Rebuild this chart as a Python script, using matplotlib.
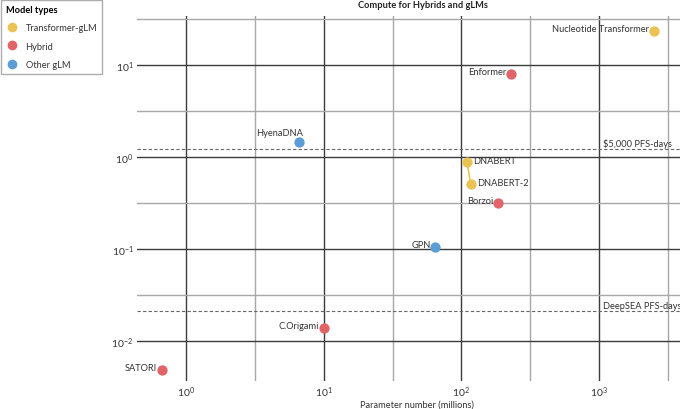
import matplotlib
matplotlib.use("Agg")
import matplotlib.pyplot as plt
from matplotlib.ticker import FixedLocator, NullFormatter, LogFormatterMathtext
from matplotlib.lines import Line2D

plt.rcParams['font.family'] = ['Lato', 'DejaVu Sans']
plt.rcParams['mathtext.fontset'] = 'custom'
plt.rcParams['mathtext.rm'] = 'Lato'
plt.rcParams['mathtext.it'] = 'Lato:italic'
plt.rcParams['mathtext.bf'] = 'Lato:bold'

models = ["Nucleotide Transformer", "Enformer", "HyenaDNA", "DNABERT", "DNABERT-2",
          "Borzoi", "GPN", "C.Origami", "SATORI"]
types = ["Transformer-gLM", "Hybrid", "Other gLM", "Transformer-gLM", "Transformer-gLM",
         "Hybrid", "Other gLM", "Hybrid", "Hybrid"]
params = [2500, 228, 6.6, 110, 117, 185, 64.6, 10, 0.67]
compute = [23.2, 7.9, 1.43, 0.875, 0.505, 0.314, 0.105, 0.0137, 0.00484]
label_side = ["left", "left", "above", "right", "right", "left", "left", "left", "left"]

ref_lines = [1.23, 0.0209]
ref_labels = ["$5,000 PFS-days", "DeepSEA PFS-days"]

type_order = ["Transformer-gLM", "Hybrid", "Other gLM"]
colors = {"Transformer-gLM": "#EBC355", "Hybrid": "#E06468", "Other gLM": "#5B9ED6"}

FS = 6.7

fig = plt.figure(figsize=(6.8, 4.1), dpi=100)
ax = fig.add_axes([137/680, 1 - 381.7/410, 1 - 137/680, (381.7 - 17)/410])
ax.set_xscale("log")
ax.set_yscale("log")
ax.set_xlim(0.441, 3868)
ax.set_ylim(0.0037, 33.8)
for s in ax.spines.values():
    s.set_visible(False)

xmaj = [1, 10, 100, 1000]
xmin = [10**(k + 0.5) for k in range(-1, 4)]
ymaj = [0.01, 0.1, 1, 10]
ymin = [10**(k + 0.5) for k in range(-3, 2)]
ax.xaxis.set_major_locator(FixedLocator(xmaj))
ax.xaxis.set_minor_locator(FixedLocator(xmin))
ax.yaxis.set_major_locator(FixedLocator(ymaj))
ax.yaxis.set_minor_locator(FixedLocator(ymin))
ax.xaxis.set_minor_formatter(NullFormatter())
ax.yaxis.set_minor_formatter(NullFormatter())
ax.xaxis.set_major_formatter(LogFormatterMathtext())
ax.yaxis.set_major_formatter(LogFormatterMathtext())
ax.tick_params(which="both", length=0, labelsize=7.5, labelcolor="#333333")
ax.tick_params(axis="x", pad=3)
ax.tick_params(axis="y", pad=2.5)
ax.grid(which="major", color="#3c3c3c", lw=1.0)
ax.grid(which="minor", color="#a8a8a8", lw=1.0)
ax.set_axisbelow(True)

for yv, lab in zip(ref_lines, ref_labels):
    ax.axhline(yv, color="#666666", lw=0.8, ls=(0, (3, 2)), zorder=1.5)
    ax.annotate(lab, (1070, yv), xytext=(0, 4.3), textcoords="offset points", ha="left",
                va="center", fontsize=FS, color="#333333")

# connection DNABERT -> DNABERT-2
i1, i2 = models.index("DNABERT"), models.index("DNABERT-2")
ax.plot([params[i1], params[i2]], [compute[i1], compute[i2]], color=colors["Transformer-gLM"],
        lw=1.2, zorder=2)

for m, t, x, y, side in zip(models, types, params, compute, label_side):
    ax.scatter(x, y, s=55, color=colors[t], zorder=3, linewidths=0)
    if side == "left":
        ax.annotate(m, (x, y), xytext=(-3.4, 2), textcoords="offset points", ha="right",
                    va="center", fontsize=FS, color="#333333", zorder=4)
    elif side == "right":
        ax.annotate(m, (x, y), xytext=(4.3, 1), textcoords="offset points", ha="left",
                    va="center", fontsize=FS, color="#333333", zorder=4)
    else:
        ax.annotate(m, (x, y), xytext=(-14, 7), textcoords="offset points", ha="center",
                    va="center", fontsize=FS, color="#333333", zorder=4)

fig.text(423/680, 1 - 5/410, "Compute for Hybrids and gLMs", ha="center", va="center",
         fontsize=FS, fontweight="bold", color="#222222")
fig.text(417/680, 1 - 405/410, "Parameter number (millions)", ha="center", va="center",
         fontsize=FS, color="#333333")

handles = [Line2D([], [], marker="o", ls="", markersize=7, markerfacecolor=colors[t],
                  markeredgewidth=0, label=t) for t in type_order]
leg = fig.legend(handles=handles, loc="upper left", bbox_to_anchor=(0.0, 1.0),
                 title="Model types", fontsize=FS, title_fontsize=FS, frameon=True,
                 fancybox=False, edgecolor="#999999", borderaxespad=0.1,
                 handletextpad=0.9, labelspacing=1.0, handlelength=1.2, borderpad=0.55)
leg.get_title().set_fontweight("bold")
leg._legend_box.align = "left"
for txt in leg.get_texts():
    txt.set_color("#333333")

fig.savefig("out.png", dpi=100)
